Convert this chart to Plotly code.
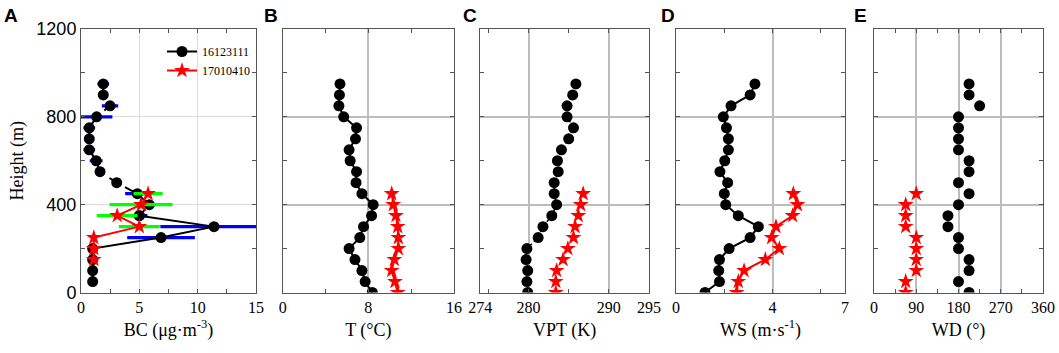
import plotly.graph_objects as go

# ---------------- data ----------------
h_bc_black = [50, 100, 150, 200, 250, 300, 350, 400, 450, 500, 550, 600, 650, 700, 750, 800, 850, 900, 950]
bc_black = [1.0, 1.0, 1.0, 1.0, 6.86, 11.4, 5.0, 5.85, 4.83, 3.06, 1.63, 1.3, 0.71, 0.71, 0.71, 1.34, 2.49, 1.91, 1.91]
bc_black_err = [0.2, 0.4, 0.2, 0.2, 2.9, 4.6, 0.7, 0.5, 1.05, 0.3, 0.3, 0.55, 0.5, 0.3, 0.5, 1.35, 0.7, 0.4, 0.5]

h_bc_red = [150, 200, 250, 300, 350, 400, 450]
bc_red = [1.1, 1.1, 1.1, 5.0, 3.1, 5.15, 5.75]
bc_red_err = [0, 0, 0, 1.75, 1.75, 2.7, 1.25]

h_black = [0, 50, 100, 150, 200, 250, 300, 350, 400, 450, 500, 550, 600, 650, 700, 750, 800, 850, 900, 950]
h_red = [0, 50, 100, 150, 200, 250, 300, 350, 400, 450]

t_black = [8.37, 7.7, 7.4, 6.75, 6.2, 7.2, 7.55, 8.3, 8.45, 7.4, 6.85, 6.9, 6.3, 6.2, 6.8, 6.9, 5.7, 5.25, 5.3, 5.35]
t_red = [10.74, 10.49, 10.18, 10.43, 10.8, 10.8, 10.74, 10.58, 10.33, 10.18]

vpt_black = [279.9, 279.8, 279.9, 279.7, 279.8, 281.2, 281.8, 282.9, 283.5, 283.2, 283.2, 283.7, 283.6, 284.1, 285.0, 285.6, 284.8, 284.8, 285.5, 285.9]
vpt_red = [283.4, 283.4, 283.5, 284.3, 284.9, 285.6, 285.8, 286.2, 286.5, 286.8]

ws_black = [1.2, 1.8, 1.77, 1.8, 2.2, 3.07, 3.41, 2.58, 2.06, 2.0, 2.14, 1.82, 2.02, 2.17, 2.17, 2.09, 1.96, 2.28, 3.07, 3.27]
ws_red = [2.51, 2.58, 2.82, 3.7, 4.28, 3.96, 4.14, 4.83, 5.03, 4.86]

wd_black = [202.5, 180, 202.5, 202.5, 180, 180, 157.5, 157.5, 180, 202.5, 180, 202.5, 202.5, 180, 180, 180, 180, 225, 202.5, 202.5]
wd_red = [67.5, 67.5, 90, 90, 90, 90, 67.5, 67.5, 67.5, 90]

series_names = ["16123111", "17010410"]
panel_letters = ["A", "B", "C", "D", "E"]
x_titles = ["BC (μg·m<sup>-3</sup>)", "T (°C)", "VPT (K)", "WS (m·s<sup>-1</sup>)", "WD (°)"]
y_title = "Height (m)"

# ---------------- styling ----------------
W, H = 1059, 353
px_domains = [(81, 256), (282.7, 454), (480.3, 649), (676, 845), (874, 1043)]
y_dom = [(H - 292.5) / H, (H - 29) / H]
SERIF = "Liberation Serif, Times New Roman, serif"
SANS = "Liberation Sans, Arial, sans-serif"
AXC = "#555555"

blk_marker = dict(symbol="circle", size=11, color="black")
red_marker = dict(symbol="star", size=12, color="red", line=dict(width=0))

fig = go.Figure()

# Panel A
split = h_bc_black.index(350)
fig.add_trace(go.Scatter(
    x=bc_black[split:], y=h_bc_black[split:], mode="lines+markers",
    line=dict(color="black", width=2, dash="dash"), marker=blk_marker,
    error_x=dict(type="data", array=bc_black_err[split:], color="#0000ff", thickness=3.2, width=0),
    showlegend=False, xaxis="x", yaxis="y"))
fig.add_trace(go.Scatter(
    x=bc_black[:split + 1], y=h_bc_black[:split + 1], mode="lines+markers",
    line=dict(color="black", width=2), marker=blk_marker,
    error_x=dict(type="data", array=bc_black_err[:split] + [0], color="#0000ff", thickness=3.2, width=0),
    name=series_names[0], xaxis="x", yaxis="y"))
fig.add_trace(go.Scatter(
    x=bc_red, y=h_bc_red, mode="lines+markers",
    line=dict(color="red", width=2), marker=red_marker,
    error_x=dict(type="data", array=bc_red_err, color="#00ff00", thickness=3.2, width=0),
    name=series_names[1], xaxis="x", yaxis="y"))

# Panel B
fig.add_trace(go.Scatter(x=t_black, y=h_black, mode="lines+markers", line=dict(color="black", width=2),
                         marker=blk_marker, showlegend=False, xaxis="x2", yaxis="y2"))
fig.add_trace(go.Scatter(x=t_red, y=h_red, mode="lines+markers", line=dict(color="red", width=2),
                         marker=red_marker, showlegend=False, xaxis="x2", yaxis="y2"))
# Panel C
fig.add_trace(go.Scatter(x=vpt_black, y=h_black, mode="lines+markers", line=dict(color="black", width=1.5, dash="dot"),
                         marker=blk_marker, showlegend=False, xaxis="x3", yaxis="y3"))
fig.add_trace(go.Scatter(x=vpt_red, y=h_red, mode="markers",
                         marker=red_marker, showlegend=False, xaxis="x3", yaxis="y3"))
# Panel D
fig.add_trace(go.Scatter(x=ws_black, y=h_black, mode="lines+markers", line=dict(color="black", width=2),
                         marker=blk_marker, showlegend=False, xaxis="x4", yaxis="y4"))
fig.add_trace(go.Scatter(x=ws_red, y=h_red, mode="lines+markers", line=dict(color="red", width=2),
                         marker=red_marker, showlegend=False, xaxis="x4", yaxis="y4"))
# Panel E
fig.add_trace(go.Scatter(x=wd_black, y=h_black, mode="markers",
                         marker=blk_marker, showlegend=False, xaxis="x5", yaxis="y5"))
fig.add_trace(go.Scatter(x=wd_red, y=h_red, mode="markers",
                         marker=red_marker, showlegend=False, xaxis="x5", yaxis="y5"))

x_specs = [
    dict(range=[0, 15], tickvals=[0, 5, 10, 15], minor_vals=[2.5, 7.5, 12.5]),
    dict(range=[0, 16], tickvals=[0, 8, 16], minor_vals=[4, 12]),
    dict(range=[274, 295], tickvals=[274, 280, 290, 295], minor_vals=[275, 285]),
    dict(range=[0, 7], tickvals=[0, 4, 7], minor_vals=[2, 6]),
    dict(range=[0, 360], tickvals=[0, 90, 180, 270, 360], minor_vals=[45, 135, 225, 315]),
]

layout = dict(
    width=W, height=H, margin=dict(l=0, r=0, t=0, b=0),
    paper_bgcolor="white", plot_bgcolor="white",
    showlegend=True,
    legend=dict(x=162 / W, y=(H - 37) / H, xanchor="left", yanchor="top",
                bgcolor="rgba(0,0,0,0)", font=dict(family=SERIF, size=12, color="black"),
                tracegroupgap=0, itemwidth=30),
)

for i in range(5):
    k = "" if i == 0 else str(i + 1)
    xs = x_specs[i]
    grid_c = "#dcdcdc" if i == 0 else "#bdbdbd"
    grid_w = 1 if i == 0 else 2
    layout["xaxis" + k] = dict(
        domain=[px_domains[i][0] / W, px_domains[i][1] / W], anchor="y" + k,
        range=xs["range"], tickvals=xs["tickvals"], ticks="inside", ticklen=4, tickcolor=AXC,
        showline=True, linecolor=AXC, linewidth=1, mirror="ticks",
        showgrid=True, gridcolor=grid_c, gridwidth=grid_w, zeroline=False,
        minor=dict(tickvals=xs["minor_vals"], ticks="inside", ticklen=4, tickcolor=AXC, showgrid=False),
        tickfont=dict(family=SERIF, size=16, color="black"),
        title=dict(text=x_titles[i], font=dict(family=SERIF, size=18, color="black"), standoff=8),
        automargin=False, fixedrange=True,
    )
    yax = dict(
        domain=list(y_dom), anchor="x" + k,
        range=[0, 1200], tick0=0, dtick=400, ticks="inside", ticklen=4, tickcolor=AXC,
        showline=True, linecolor=AXC, linewidth=1, mirror="ticks",
        showgrid=True, gridcolor=grid_c, gridwidth=grid_w, zeroline=False,
        minor=dict(dtick=200, ticks="inside", ticklen=4, tickcolor=AXC, showgrid=False),
        showticklabels=(i == 0),
        tickfont=dict(family=SANS, size=18, color="black"),
        automargin=False, fixedrange=True,
    )
    if i == 0:
        yax["title"] = dict(text=y_title, font=dict(family=SERIF, size=18, color="black"), standoff=8)
    layout["yaxis" + k] = yax

letter_x = [2, 262, 461, 659, 852]
layout["annotations"] = [
    dict(text="<b>%s</b>" % panel_letters[i], x=letter_x[i] / W, y=1 - 3 / H, xref="paper", yref="paper",
         xanchor="left", yanchor="top", showarrow=False,
         font=dict(family=SANS, size=19, color="black"))
    for i in range(5)
]

fig.update_layout(**layout)
fig.write_html("out.html", config={"displayModeBar": False},
               post_script="document.body.style.margin='0';document.body.style.overflow='hidden';")
